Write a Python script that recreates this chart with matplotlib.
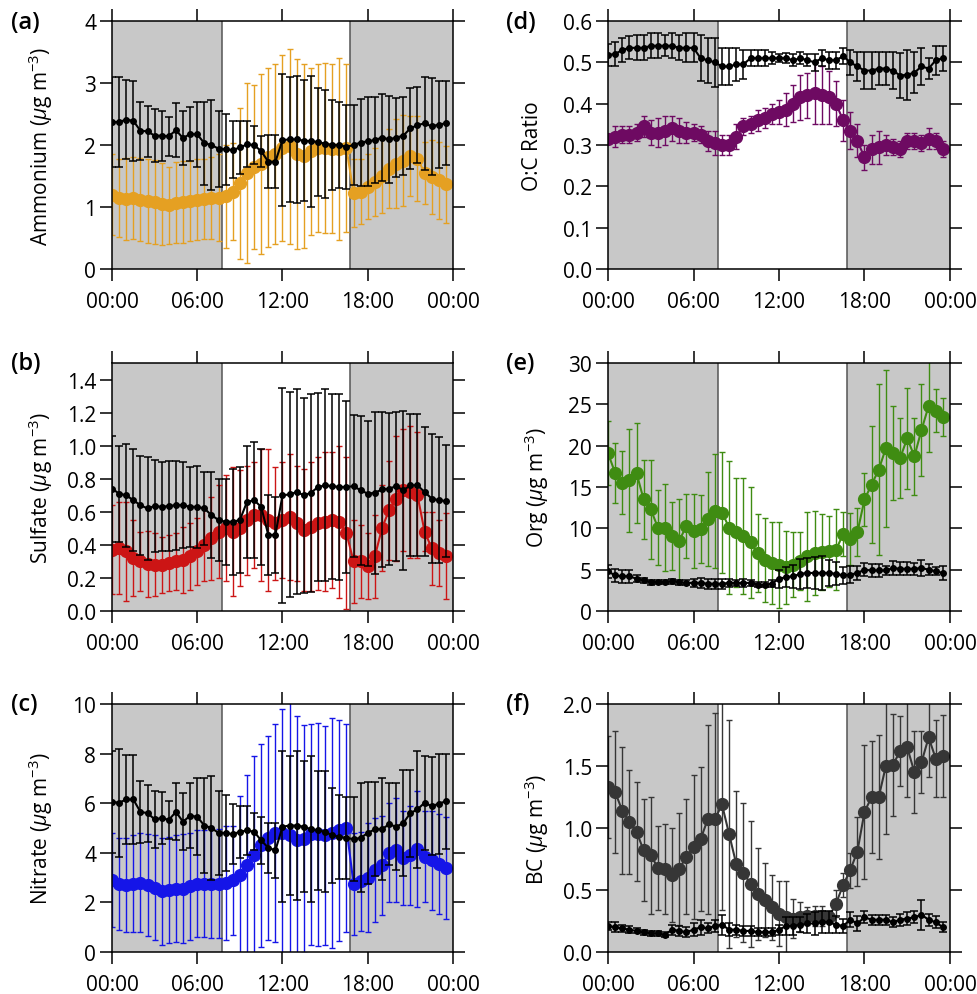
import numpy as np
import matplotlib
matplotlib.use("Agg")
import matplotlib.pyplot as plt

plt.rcParams['font.family'] = ['Open Sans', 'DejaVu Sans']
plt.rcParams['mathtext.fontset'] = 'custom'
plt.rcParams['mathtext.rm'] = 'Open Sans'
plt.rcParams['mathtext.it'] = 'Open Sans:italic'

# half-hour bins, 00:00 .. 23:30
hours = np.arange(48) * 0.5
night1 = (0, 7.75)
night2 = (16.75, 24)
xtick_pos = [0, 6, 12, 18, 24]
xtick_lab = ["00:00", "06:00", "12:00", "18:00", "00:00"]

# --- (a) ammonium ---
amm_col = [1.20, 1.15, 1.13, 1.15, 1.12, 1.10, 1.08, 1.05, 1.03, 1.07, 1.08, 1.10, 1.12, 1.13, 1.15, 1.15,
           1.17, 1.25, 1.38, 1.55, 1.65, 1.70, 1.80, 1.85, 1.95, 1.98, 1.85, 1.82, 1.90, 1.95, 1.95, 1.94,
           1.93, 1.95, 1.22, 1.25, 1.33, 1.40, 1.50, 1.62, 1.70, 1.75, 1.82, 1.78, 1.55, 1.48, 1.43, 1.37]
amm_col_err = [0.65, 0.63, 0.66, 0.66, 0.67, 0.68, 0.68, 0.66, 0.62, 0.65, 0.66, 0.65, 0.65, 0.65, 0.66, 0.70,
               0.83, 0.78, 1.22, 1.45, 1.32, 1.45, 1.45, 1.45, 1.50, 1.57, 1.53, 1.48, 1.35, 1.35, 1.37, 1.36,
               1.47, 1.35, 0.55, 0.53, 0.53, 0.55, 0.60, 0.64, 0.72, 0.73, 0.65, 0.69, 0.50, 0.60, 0.62, 0.62]
amm_blk = [2.37, 2.37, 2.41, 2.39, 2.23, 2.22, 2.15, 2.15, 2.14, 2.24, 2.11, 2.18, 2.17, 2.03, 2.00, 1.94,
           1.93, 1.92, 1.96, 2.01, 2.00, 1.90, 1.73, 1.73, 2.08, 2.09, 2.09, 2.07, 2.06, 2.05, 2.02, 2.00,
           2.00, 1.97, 2.00, 2.04, 2.06, 2.08, 2.12, 2.09, 2.12, 2.15, 2.27, 2.32, 2.35, 2.30, 2.33, 2.35]
amm_blk_err = [0.72, 0.73, 0.64, 0.64, 0.47, 0.41, 0.43, 0.40, 0.31, 0.43, 0.44, 0.44, 0.53, 0.67, 0.72, 0.61,
               0.57, 0.46, 0.42, 0.37, 0.30, 0.25, 0.43, 0.43, 1.07, 1.01, 1.03, 0.98, 1.06, 0.87, 0.87, 0.73,
               0.69, 0.68, 0.65, 0.70, 0.72, 0.70, 0.70, 0.70, 0.64, 0.63, 0.65, 0.61, 0.75, 0.78, 0.70, 0.68]

# --- (b) sulfate ---
so4_col = [0.37, 0.38, 0.36, 0.32, 0.30, 0.285, 0.28, 0.28, 0.29, 0.30, 0.31, 0.33, 0.36, 0.40, 0.44, 0.48,
           0.50, 0.48, 0.50, 0.55, 0.58, 0.58, 0.55, 0.53, 0.55, 0.57, 0.53, 0.49, 0.51, 0.53, 0.54, 0.55,
           0.54, 0.47, 0.30, 0.30, 0.27, 0.33, 0.50, 0.61, 0.68, 0.73, 0.72, 0.70, 0.48, 0.38, 0.35, 0.33]
so4_col_err = [0.27, 0.28, 0.30, 0.23, 0.18, 0.20, 0.19, 0.17, 0.17, 0.17, 0.20, 0.20, 0.20, 0.22, 0.25, 0.28,
               0.32, 0.39, 0.35, 0.33, 0.32, 0.40, 0.43, 0.34, 0.35, 0.38, 0.35, 0.37, 0.39, 0.40, 0.42, 0.41,
               0.46, 0.46, 0.25, 0.22, 0.20, 0.25, 0.26, 0.30, 0.38, 0.37, 0.40, 0.38, 0.12, 0.22, 0.20, 0.26]
so4_blk = [0.74, 0.71, 0.70, 0.67, 0.64, 0.62, 0.635, 0.63, 0.635, 0.64, 0.64, 0.63, 0.63, 0.62, 0.58, 0.55,
           0.54, 0.54, 0.55, 0.66, 0.67, 0.63, 0.46, 0.46, 0.70, 0.705, 0.72, 0.70, 0.715, 0.75, 0.76, 0.755,
           0.75, 0.75, 0.755, 0.73, 0.71, 0.715, 0.735, 0.74, 0.755, 0.73, 0.76, 0.76, 0.72, 0.68, 0.67, 0.665]
so4_blk_err = [0.32, 0.29, 0.31, 0.31, 0.30, 0.31, 0.28, 0.27, 0.27, 0.27, 0.26, 0.24, 0.25, 0.22, 0.26, 0.25,
               0.26, 0.32, 0.32, 0.34, 0.35, 0.35, 0.24, 0.23, 0.65, 0.62, 0.62, 0.59, 0.60, 0.57, 0.58, 0.56,
               0.56, 0.52, 0.43, 0.45, 0.44, 0.49, 0.47, 0.46, 0.45, 0.48, 0.43, 0.43, 0.39, 0.39, 0.38, 0.34]

# --- (c) nitrate ---
no3_col = [2.90, 2.75, 2.70, 2.75, 2.80, 2.70, 2.60, 2.45, 2.50, 2.55, 2.55, 2.65, 2.75, 2.75, 2.75, 2.75,
           2.80, 2.90, 3.10, 3.50, 3.90, 4.30, 4.60, 4.80, 4.80, 4.70, 4.50, 4.55, 4.75, 4.75, 4.70, 4.80,
           4.90, 5.00, 2.75, 2.85, 3.00, 3.30, 3.50, 4.00, 4.10, 3.80, 3.90, 4.15, 3.85, 3.70, 3.55, 3.40]
no3_col_err = [1.90, 1.85, 1.90, 1.95, 2.00, 2.05, 2.10, 2.15, 2.15, 2.15, 2.20, 2.15, 2.15, 2.15, 2.20, 2.20,
               2.30, 2.20, 3.20, 3.65, 4.00, 4.10, 4.10, 4.40, 5.00, 5.40, 5.00, 4.60, 4.45, 4.50, 4.40, 4.65,
               4.45, 4.20, 2.05, 2.00, 2.20, 2.10, 2.00, 2.00, 2.10, 1.90, 2.00, 2.35, 1.85, 2.00, 2.00, 2.05]
no3_blk = [6.05, 6.02, 6.15, 6.15, 5.65, 5.60, 5.35, 5.40, 5.33, 5.65, 5.25, 5.50, 5.45, 5.10, 5.00, 4.80,
           4.80, 4.75, 4.85, 4.90, 4.85, 4.50, 4.20, 4.10, 5.05, 5.10, 5.10, 5.05, 4.95, 4.90, 4.85, 4.70,
           4.65, 4.60, 4.55, 4.60, 4.80, 4.95, 4.95, 5.15, 5.05, 5.20, 5.60, 5.75, 6.02, 5.88, 5.98, 6.08]
no3_blk_err = [2.05, 2.18, 1.80, 1.80, 1.25, 1.15, 1.15, 1.05, 0.77, 1.15, 1.15, 1.30, 1.55, 1.90, 2.10, 1.70,
               1.55, 1.20, 1.05, 1.00, 0.75, 0.95, 1.00, 1.10, 3.05, 2.80, 3.00, 2.65, 2.95, 2.40, 2.45, 1.90,
               1.70, 1.65, 1.70, 2.20, 2.05, 1.90, 2.05, 1.65, 1.75, 2.15, 1.75, 2.35, 1.90, 1.97, 2.02, 1.92]

# --- (d) O:C ratio ---
oc_col = [0.315, 0.32, 0.325, 0.325, 0.33, 0.345, 0.33, 0.33, 0.335, 0.34, 0.335, 0.33, 0.33, 0.325, 0.31, 0.305,
          0.30, 0.30, 0.32, 0.345, 0.35, 0.36, 0.365, 0.375, 0.38, 0.385, 0.40, 0.415, 0.42, 0.425, 0.42, 0.415,
          0.40, 0.36, 0.335, 0.31, 0.27, 0.29, 0.295, 0.30, 0.295, 0.29, 0.31, 0.31, 0.305, 0.315, 0.31, 0.29]
oc_col_err = [0.01, 0.025, 0.02, 0.02, 0.02, 0.025, 0.03, 0.035, 0.035, 0.03, 0.03, 0.025, 0.02, 0.02, 0.025, 0.03,
              0.025, 0.025, 0.03, 0.02, 0.02, 0.025, 0.025, 0.025, 0.03, 0.04, 0.045, 0.055, 0.055, 0.075, 0.07, 0.065,
              0.055, 0.05, 0.045, 0.04, 0.03, 0.035, 0.04, 0.025, 0.02, 0.02, 0.02, 0.02, 0.02, 0.025, 0.02, 0.02]
oc_blk = [0.518, 0.52, 0.53, 0.535, 0.535, 0.535, 0.54, 0.54, 0.54, 0.54, 0.535, 0.535, 0.535, 0.51, 0.505, 0.50,
          0.49, 0.49, 0.495, 0.495, 0.51, 0.51, 0.51, 0.51, 0.51, 0.51, 0.505, 0.51, 0.505, 0.50, 0.51, 0.505,
          0.505, 0.515, 0.50, 0.49, 0.48, 0.48, 0.485, 0.485, 0.48, 0.468, 0.47, 0.475, 0.49, 0.485, 0.505, 0.51]
oc_blk_err = [0.027, 0.03, 0.03, 0.028, 0.03, 0.03, 0.03, 0.03, 0.025, 0.03, 0.03, 0.035, 0.035, 0.055, 0.055, 0.06,
              0.045, 0.045, 0.04, 0.035, 0.02, 0.02, 0.02, 0.015, 0.01, 0.012, 0.015, 0.015, 0.015, 0.02, 0.02, 0.02,
              0.02, 0.02, 0.03, 0.035, 0.045, 0.045, 0.04, 0.04, 0.045, 0.055, 0.06, 0.05, 0.045, 0.025, 0.035, 0.03]

# --- (e) organics ---
org_col = [19.1, 16.7, 15.5, 15.8, 16.7, 13.5, 12.3, 10.1, 10.1, 9.1, 8.5, 10.3, 9.7, 9.9, 11.1, 12.1,
           11.9, 10.1, 9.5, 9.1, 8.3, 7.0, 6.2, 5.8, 5.6, 5.3, 5.6, 6.0, 6.6, 7.0, 7.1, 7.2,
           7.4, 9.3, 8.7, 9.5, 13.5, 15.3, 17.1, 19.7, 19.1, 18.5, 20.9, 18.7, 21.9, 24.8, 24.2, 23.5]
org_col_err = [3.9, 3.6, 3.8, 6.2, 6.1, 4.8, 6.0, 4.5, 5.3, 4.1, 5.0, 3.9, 4.5, 4.1, 5.7, 6.9,
               7.3, 8.1, 6.6, 7.0, 6.7, 4.7, 5.1, 5.0, 5.2, 4.4, 3.9, 3.5, 5.4, 5.1, 4.6, 4.3,
               4.9, 2.7, 3.1, 2.9, 3.2, 7.1, 10.3, 9.5, 5.7, 4.8, 6.1, 4.7, 5.6, 5.6, 2.6, 2.3]
org_blk = [4.8, 4.3, 4.2, 4.2, 3.9, 3.7, 3.5, 3.5, 3.5, 3.6, 3.5, 3.4, 3.4, 3.4, 3.3, 3.3,
           3.3, 3.4, 3.4, 3.4, 3.4, 3.2, 3.2, 3.3, 3.9, 4.1, 4.2, 4.5, 4.6, 4.6, 4.6, 4.6,
           4.5, 4.3, 4.4, 4.6, 5.0, 4.9, 4.9, 4.9, 5.2, 5.1, 5.1, 5.1, 5.2, 5.0, 4.8, 4.6]
org_blk_err = [0.8, 0.8, 0.8, 0.8, 0.4, 0.3, 0.3, 0.2, 0.2, 0.3, 0.3, 0.3, 0.5, 0.6, 0.6, 0.6,
               0.6, 0.5, 0.4, 0.5, 0.4, 0.3, 0.3, 0.4, 1.1, 1.2, 1.4, 1.8, 1.8, 1.9, 2.0, 1.6,
               1.4, 1.0, 1.0, 0.9, 0.8, 0.8, 0.8, 0.6, 0.8, 0.8, 0.8, 0.7, 1.0, 0.7, 0.5, 0.9]

# --- (f) black carbon ---
bc_col = [1.33, 1.29, 1.14, 1.05, 0.97, 0.82, 0.78, 0.68, 0.67, 0.62, 0.67, 0.77, 0.85, 0.91, 1.07, 1.07,
          1.19, 0.95, 0.71, 0.64, 0.55, 0.47, 0.42, 0.36, 0.31, 0.28, 0.27, 0.28, 0.29, 0.29, 0.29, 0.28,
          0.39, 0.54, 0.66, 0.81, 1.13, 1.25, 1.25, 1.50, 1.51, 1.62, 1.65, 1.45, 1.53, 1.73, 1.56, 1.58]
bc_col_err = [0.41, 0.49, 0.51, 0.42, 0.40, 0.41, 0.47, 0.34, 0.36, 0.38, 0.45, 0.46, 0.58, 0.58, 0.76, 0.86,
              0.85, 0.92, 0.59, 0.56, 0.51, 0.37, 0.30, 0.26, 0.26, 0.29, 0.16, 0.12, 0.07, 0.08, 0.08, 0.05,
              0.11, 0.10, 0.14, 0.28, 0.54, 0.45, 0.50, 0.55, 0.41, 0.28, 0.40, 0.33, 0.25, 0.32, 0.31, 0.33]
bc_blk = [0.21, 0.20, 0.19, 0.18, 0.17, 0.16, 0.15, 0.15, 0.14, 0.18, 0.17, 0.16, 0.18, 0.20, 0.19, 0.21,
          0.22, 0.18, 0.18, 0.17, 0.17, 0.16, 0.16, 0.16, 0.18, 0.21, 0.21, 0.22, 0.23, 0.23, 0.24, 0.24,
          0.22, 0.21, 0.26, 0.23, 0.28, 0.26, 0.26, 0.26, 0.24, 0.26, 0.27, 0.28, 0.30, 0.26, 0.24, 0.20]
bc_blk_err = [0.03, 0.04, 0.03, 0.03, 0.02, 0.02, 0.02, 0.02, 0.02, 0.04, 0.04, 0.04, 0.05, 0.06, 0.04, 0.05,
              0.08, 0.05, 0.04, 0.04, 0.04, 0.03, 0.03, 0.03, 0.04, 0.07, 0.07, 0.06, 0.08, 0.09, 0.09, 0.09,
              0.07, 0.06, 0.06, 0.06, 0.05, 0.04, 0.04, 0.04, 0.04, 0.05, 0.05, 0.05, 0.12, 0.05, 0.05, 0.04]


def draw_panel(ax, col_y, col_err, col_color, blk_y, blk_err, ylim, yticks, yfmt, ylabel, label_x):
    # night-time shading
    for lo, hi in (night1, night2):
        ax.axvspan(lo, hi, color='#c8c8c8', lw=0, zorder=0)
    for xv in (night1[1], night2[0]):
        ax.axvline(xv, color='#555555', lw=1.1, zorder=0.5)

    ax.errorbar(hours, col_y, yerr=col_err, color=col_color, marker='o', markersize=8.5,
                lw=1.5, elinewidth=1.0, capsize=2.5, capthick=1.0, zorder=2)
    ax.errorbar(hours, blk_y, yerr=blk_err, color='black', marker='o', markersize=4,
                lw=1.5, elinewidth=1.1, capsize=3, capthick=1.1, zorder=3)

    ax.set_xlim(0, 24)
    ax.set_ylim(*ylim)
    ax.set_xticks(xtick_pos)
    ax.set_xticklabels(xtick_lab)
    ax.set_yticks(yticks)
    ax.set_yticklabels([yfmt.format(v) for v in yticks])
    ax.tick_params(direction='out', length=8.5, width=1.1, top=True, right=True, labelsize=15)
    ax.tick_params(axis='x', pad=7)
    ax.tick_params(axis='y', pad=3)
    for sp in ax.spines.values():
        sp.set_linewidth(1.1)
    ax.set_ylabel(ylabel, fontsize=15)
    ax.yaxis.set_label_coords(label_x, 0.5)


fig = plt.figure(figsize=(9.78, 9.95), dpi=100)
W, H = 978.0, 995.0
col_left = [112 / W, 608 / W]
col_w = [341 / W, 342 / W]
row_bottom = [1 - 270 / H, 1 - 612 / H, 1 - 953 / H]
row_h = 248 / H

ax_a = fig.add_axes([col_left[0], row_bottom[0], col_w[0], row_h])
ax_b = fig.add_axes([col_left[0], row_bottom[1], col_w[0], row_h])
ax_c = fig.add_axes([col_left[0], row_bottom[2], col_w[0], row_h])
ax_d = fig.add_axes([col_left[1], row_bottom[0], col_w[1], row_h])
ax_e = fig.add_axes([col_left[1], row_bottom[1], col_w[1], row_h])
ax_f = fig.add_axes([col_left[1], row_bottom[2], col_w[1], row_h])

unit = r' ($\mu$g m$^{-3}$)'
draw_panel(ax_a, amm_col, amm_col_err, '#E5A022', amm_blk, amm_blk_err,
           (0, 4), [0, 1, 2, 3, 4], '{:.0f}', 'Ammonium' + unit, -0.167)
draw_panel(ax_b, so4_col, so4_col_err, '#CC1515', so4_blk, so4_blk_err,
           (0, 1.5), [0, 0.2, 0.4, 0.6, 0.8, 1.0, 1.2, 1.4], '{:.1f}', 'Sulfate' + unit, -0.167)
draw_panel(ax_c, no3_col, no3_col_err, '#1515E8', no3_blk, no3_blk_err,
           (0, 10), [0, 2, 4, 6, 8, 10], '{:.0f}', 'Nitrate' + unit, -0.167)
draw_panel(ax_d, oc_col, oc_col_err, '#6E0A62', oc_blk, oc_blk_err,
           (0, 0.6), [0, 0.1, 0.2, 0.3, 0.4, 0.5, 0.6], '{:.1f}', 'O:C Ratio', -0.19)
draw_panel(ax_e, org_col, org_col_err, '#3F8C12', org_blk, org_blk_err,
           (0, 30), [0, 5, 10, 15, 20, 25, 30], '{:.0f}', 'Org' + unit, -0.167)
draw_panel(ax_f, bc_col, bc_col_err, '#363636', bc_blk, bc_blk_err,
           (0, 2.0), [0, 0.5, 1.0, 1.5, 2.0], '{:.1f}', 'BC' + unit, -0.167)

for letter, x, y in [('(a)', 11, 23), ('(b)', 11, 364), ('(c)', 11, 705),
                     ('(d)', 506, 23), ('(e)', 506, 364), ('(f)', 506, 705)]:
    fig.text(x / W, 1 - y / H, letter, fontsize=17, fontweight='semibold', ha='left', va='center')

fig.savefig('out.png', dpi=100)
